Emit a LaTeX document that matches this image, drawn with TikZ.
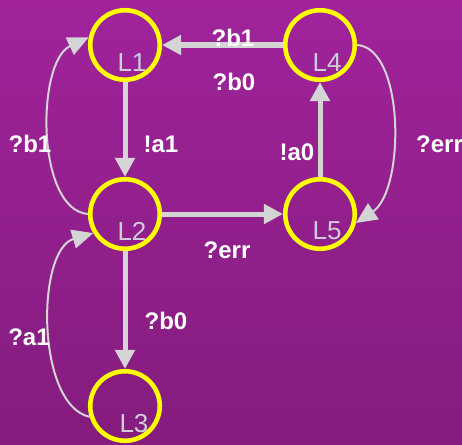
\documentclass[tikz,border=0pt]{standalone}
\usepackage{fontspec}
\setmainfont{Liberation Sans}
\usetikzlibrary{arrows.meta}
\definecolor{bgtop}{RGB}{160,35,155}
\definecolor{bgbot}{RGB}{132,28,125}
\definecolor{edgegray}{RGB}{212,212,212}
\definecolor{namegray}{RGB}{205,205,220}
\definecolor{ringyellow}{RGB}{255,255,0}
\begin{document}
\begin{tikzpicture}[x=1pt,y=-1pt,
  state/.style={circle,draw=ringyellow,line width=4.6pt,minimum size=69.5pt,inner sep=0pt},
  statename/.style={text=namegray,font=\fontsize{26}{28}\selectfont,inner sep=0pt},
  move/.style={draw=edgegray,line width=5pt,-{Triangle[length=19pt,width=19pt,fill=edgegray]}},
  loopback/.style={draw=edgegray,line width=2pt,-{Triangle[length=21pt,width=19pt,fill=edgegray]}},
  act/.style={text=white,font=\bfseries\fontsize{24}{26}\selectfont,inner sep=0pt}]
  % background
  \shade[top color=bgtop,bottom color=bgbot] (0,0) rectangle (462,444);
  \useasboundingbox (0,0) rectangle (462,444);

  % states
  \node[state] (L1) at (125,45) {};
  \node[state] (L2) at (125,214) {};
  \node[state] (L3) at (125,406) {};
  \node[state] (L4) at (320,45) {};
  \node[state] (L5) at (320,214) {};

  % transitions
  \draw[move] (L4) -- (L1);
  \draw[move] (L1) -- (L2);
  \draw[move] (L2) -- (L5);
  \draw[move] (L5) -- (L4);
  \draw[move] (L2) -- (L3);
  \draw[loopback] (L2.west) .. controls (36,210) and (36,62) .. (L1.168);
  \draw[loopback] (L3.197) .. controls (36,405) and (36,250) .. (L2.211);
  \draw[loopback] (L4.east) .. controls (405,48) and (405,190) .. (L5.-14);

  % state names
  \node[statename] (n1) at (132,63) {L1};
  \node[statename] (n2) at (132,231) {L2};
  \node[statename] (n3) at (134,424) {L3};
  \node[statename] (n4) at (327,63) {L4};
  \node[statename] (n5) at (327,231) {L5};

  % transition labels
  \node[act] (t41) at (233,38) {?b1};
  \node[act] (t41b) at (234,82) {?b0};
  \node[act] (t21) at (30,144) {?b1};
  \node[act] (t12) at (161,144) {!a1};
  \node[act] (t54) at (297,152) {!a0};
  \node[act,anchor=west] (t45) at (416,144) {?err};
  \node[act] (t25) at (227,250) {?err};
  \node[act] (t23) at (166,321) {?b0};
  \node[act] (t32) at (29,337) {?a1};
\end{tikzpicture}
\end{document}
